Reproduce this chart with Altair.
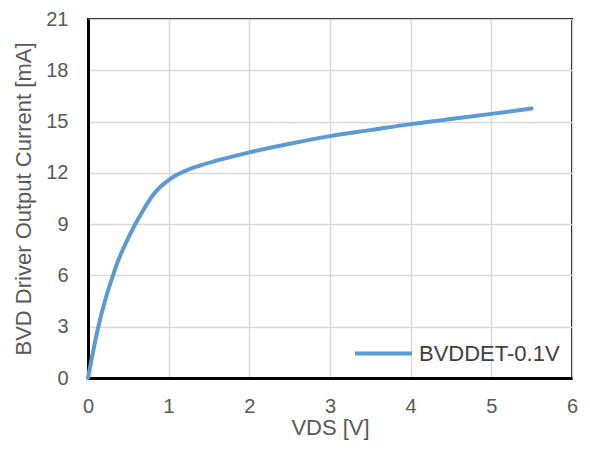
import altair as alt
import pandas as pd

vds = [0.0, 0.128, 0.21, 0.31, 0.385, 0.46, 0.58, 0.67, 0.79, 0.89, 0.95, 1.0, 1.07,
       1.14, 1.25, 1.37, 1.7, 2.0, 2.5, 3.0, 3.5, 4.0, 4.5, 5.0, 5.5]
current = [0.0, 3.0, 4.5, 6.0, 7.0, 7.8, 8.95, 9.7, 10.6, 11.15, 11.4, 11.58, 11.8,
           11.98, 12.2, 12.4, 12.85, 13.2, 13.7, 14.15, 14.5, 14.85, 15.15, 15.45, 15.76]
series = ["BVDDET-0.1V"] * len(vds)

x_ticks = [0, 1, 2, 3, 4, 5, 6]
y_ticks = [0, 3, 6, 9, 12, 15, 18, 21]

df = pd.DataFrame({"VDS": vds, "I": current, "series": series})

FONT = "Liberation Sans"
TXT = "#595959"

chart = alt.Chart(df).mark_line(strokeWidth=4, strokeCap="round", interpolate="monotone").encode(
    x=alt.X("VDS:Q", scale=alt.Scale(domain=[0, 6], nice=False),
            axis=alt.Axis(values=x_ticks, title="VDS [V]", format="d")),
    y=alt.Y("I:Q", scale=alt.Scale(domain=[0, 21], nice=False),
            axis=alt.Axis(values=y_ticks, title="BVD Driver Output Current [mA]", format="d")),
    color=alt.Color("series:N", scale=alt.Scale(range=["#5B9BD5"]),
                    legend=alt.Legend(title=None, orient="none", legendX=265, legendY=304,
                                      symbolType="stroke", symbolSize=3249, symbolStrokeWidth=4,
                                      labelFont=FONT, labelFontSize=22, labelColor="#404040",
                                      labelOffset=5, padding=0)),
).properties(
    width=484, height=359,
    autosize=alt.AutoSizeParams(type="none"),
    padding={"left": 80, "top": 11, "right": 8, "bottom": 67},
).configure_view(
    stroke="black", strokeWidth=2
).configure_axis(
    labelFont=FONT, labelFontSize=20, labelColor=TXT, labelFlush=False,
    titleFont=FONT, titleFontSize=22, titleColor=TXT, titleFontWeight="normal",
    grid=True, gridColor="#D9D9D9", gridWidth=1.5,
    domainColor="black", domainWidth=3,
    ticks=False,
).configure_axisX(
    labelPadding=18, titlePadding=1,
).configure_axisY(
    labelPadding=20, titlePadding=10,
)

chart.save("out.html", embed_options={"renderer": "svg", "actions": False})
